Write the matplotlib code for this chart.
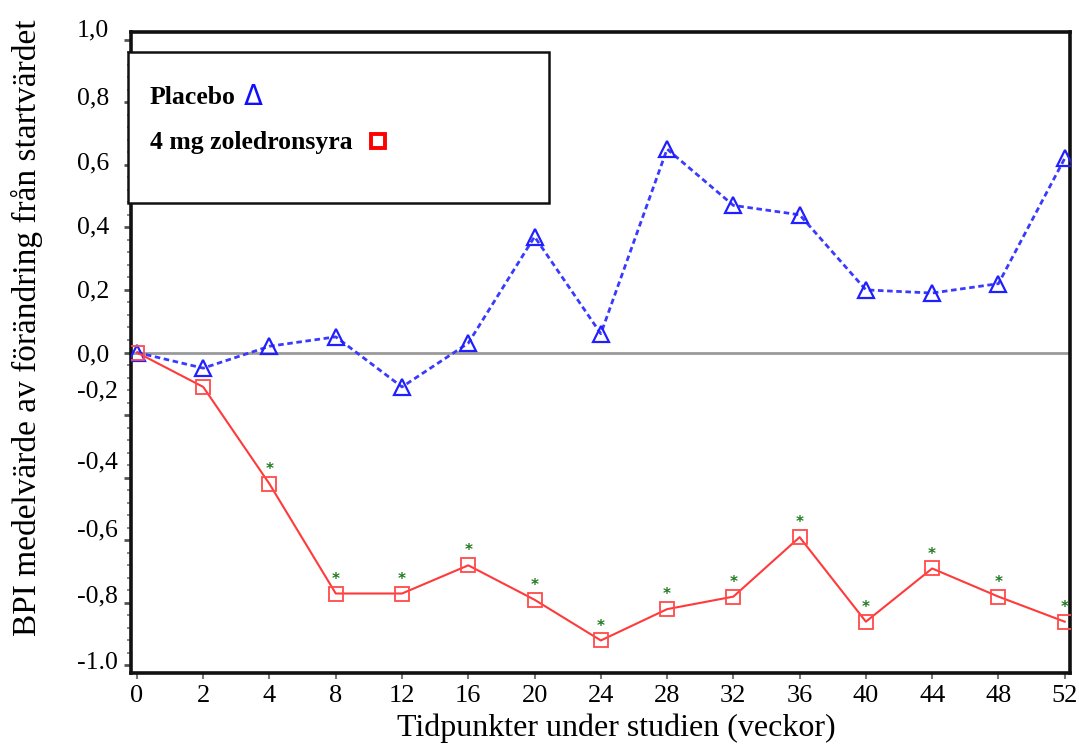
import matplotlib
matplotlib.use("Agg")
import matplotlib.pyplot as plt
import matplotlib.transforms as mtransforms
from matplotlib.patches import Rectangle
from matplotlib.lines import Line2D
import numpy as np

plt.rcParams['font.family'] = ['Liberation Serif', 'DejaVu Serif']

weeks = ["0", "2", "4", "8", "12", "16", "20", "24", "28", "32", "36", "40", "44", "48", "52"]
placebo = [0.00, -0.05, 0.02, 0.05, -0.11, 0.03, 0.37, 0.06, 0.65, 0.47, 0.44, 0.20, 0.19, 0.22, 0.62]
zoledron = [0.00, -0.11, -0.42, -0.77, -0.77, -0.68, -0.79, -0.92, -0.82, -0.78, -0.59, -0.86, -0.69, -0.78, -0.86]
significant = [False, False, True, True, True, True, True, True, True, True, True, True, True, True, True]

ytick_vals = [1.0, 0.8, 0.6, 0.4, 0.2, 0.0, -0.2, -0.4, -0.6, -0.8, -1.0]
ytick_texts = ["1,0", "0,8", "0,6", "0,4", "0,2", "0,0", "-0,2", "-0,4", "-0,6", "-0,8", "-1.0"]
# vertical placement of the printed labels (they are offset from the tick marks in the original)
ytick_label_pos = [1.030, 0.813, 0.605, 0.398, 0.196, -0.008, -0.126, -0.350, -0.567, -0.781, -0.992]

W, H = 1079, 747
fig = plt.figure(figsize=(W / 100, H / 100), dpi=100)
ax = fig.add_axes([131 / W, 1 - 673 / H, (1070 - 131) / W, (673 - 32) / H])

x = np.arange(len(weeks))

ax.axhline(0, color='#9a9a9a', lw=2.0, zorder=1)

ax.plot(x, placebo, color='#3a3aff', lw=2.0, linestyle=(0, (2.0, 1.3)),
        marker='^', markersize=11, markerfacecolor='none', markeredgecolor='#2020ff',
        markeredgewidth=1.6, zorder=3)
ax.plot(x, zoledron, color='#ff3a3a', lw=1.5, linestyle='-',
        marker='s', markersize=10.5, markerfacecolor='none', markeredgecolor='#ff4a4a',
        markeredgewidth=1.3, zorder=3)

for xi, yi, s in zip(x, zoledron, significant):
    if s:
        ax.annotate('*', (xi, yi), xytext=(0, 5), textcoords='offset points',
                    ha='center', va='bottom', color='#1f7a1f', fontsize=11,
                    fontweight='bold', family='DejaVu Sans')

ax.set_xlim(-0.09, 14.08)
ax.set_ylim(-1.024, 1.024)

ax.set_xticks(x)
ax.set_xticklabels(weeks, fontsize=19)
ax.tick_params(axis='x', direction='out', length=4, width=1.5, color='#777777', pad=5)

ax.set_yticks(ytick_vals)
ax.set_yticklabels([])
ax.set_yticks(np.arange(-1.0, 1.0001, 0.04), minor=True)
ax.tick_params(axis='y', which='major', direction='out', length=5, width=2, color='#555555')
ax.tick_params(axis='y', which='minor', direction='out', length=3, width=1.2, color='#777777')

trans = mtransforms.blended_transform_factory(fig.transFigure, ax.transData)
for txt, yp in zip(ytick_texts, ytick_label_pos):
    ax.text(77 / W, yp, txt, transform=trans, ha='left', va='center', fontsize=18.5)

for sp in ax.spines.values():
    sp.set_linewidth(2.6)
    sp.set_color('#111111')

fig.text(616 / W, 1 - 728 / H, 'Tidpunkter under studien (veckor)', fontsize=23,
         ha='center', va='center')
fig.text(27 / W, 1 - 328 / H, 'BPI medelvärde av förändring från startvärdet',
         rotation=90, ha='center', va='center', fontsize=24)

# legend box
box = Rectangle((128 / W, 1 - 203 / H), (549 - 128) / W, (203 - 52) / H,
                transform=fig.transFigure, facecolor='white', edgecolor='#111111',
                lw=1.8, zorder=5)
fig.patches.append(box)
fig.text(150 / W, 1 - 97 / H, 'Placebo', fontsize=18.5, fontweight='bold',
         ha='left', va='center', zorder=6)
fig.text(244 / W, 1 - 97 / H, 'Δ', fontsize=20, color='#1010ff', family='DejaVu Sans',
         ha='left', va='center', zorder=6)
fig.text(150 / W, 1 - 142 / H, '4 mg zoledronsyra', fontsize=18.5, fontweight='bold',
         ha='left', va='center', zorder=6)
fig.add_artist(Line2D([378 / W], [1 - 141 / H], transform=fig.transFigure,
                      marker='s', markersize=10, markerfacecolor='white',
                      markeredgecolor='#ff0000', markeredgewidth=2.8, zorder=7))

fig.savefig('out.png', dpi=100)
